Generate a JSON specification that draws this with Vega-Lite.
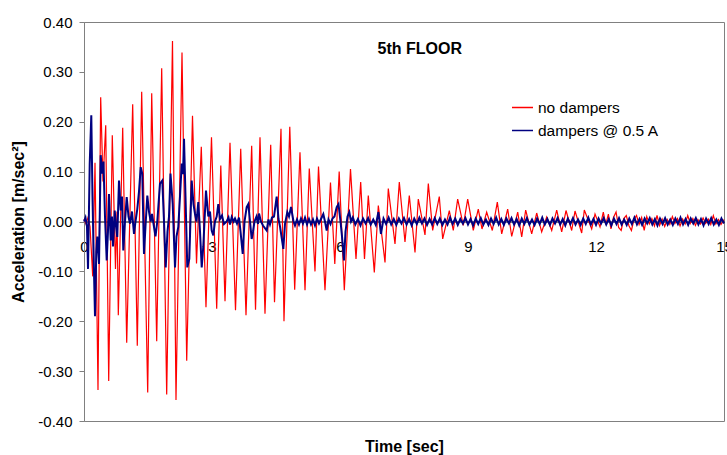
{
"$schema": "https://vega.github.io/schema/vega-lite/v6.json",
"width": 640, "height": 399,
"autosize": "none",
"padding": {"left": 84, "top": 22, "right": 3, "bottom": 34},
"background": "white",
"config": {"view": {"stroke": "#808080", "strokeWidth": 1}, "font": "Liberation Sans"},
"datasets": {
"red": [
{"t":0.000,"v":0.005},{"t":0.047,"v":-0.005},{"t":0.094,"v":0.008},{"t":0.141,"v":-0.01},{"t":0.204,"v":-0.11},{"t":0.258,"v":0.118},{"t":0.328,"v":-0.338},{"t":0.391,"v":0.249},{"t":0.445,"v":0.08},{"t":0.509,"v":0.193},{"t":0.579,"v":-0.32},{"t":0.663,"v":0.173},{"t":0.738,"v":-0.095},{"t":0.773,"v":0.02},{"t":0.804,"v":-0.188},{"t":0.907,"v":0.188},{"t":1.001,"v":-0.243},{"t":1.141,"v":0.235},{"t":1.249,"v":-0.249},{"t":1.352,"v":0.26},{"t":1.493,"v":-0.343},{"t":1.587,"v":0.257},{"t":1.704,"v":-0.24},{"t":1.821,"v":0.307},{"t":1.938,"v":-0.347},{"t":2.074,"v":0.362},{"t":2.156,"v":-0.358},{"t":2.297,"v":0.339},{"t":2.407,"v":-0.279},{"t":2.543,"v":0.212},{"t":2.637,"v":-0.084},{"t":2.749,"v":0.15},{"t":2.859,"v":-0.172},{"t":2.988,"v":0.169},{"t":3.110,"v":-0.175},{"t":3.206,"v":0.112},{"t":3.305,"v":-0.16},{"t":3.422,"v":0.158},{"t":3.551,"v":-0.178},{"t":3.673,"v":0.146},{"t":3.797,"v":-0.188},{"t":3.930,"v":0.152},{"t":4.020,"v":-0.177},{"t":4.125,"v":0.169},{"t":4.242,"v":-0.185},{"t":4.376,"v":0.154},{"t":4.465,"v":-0.162},{"t":4.617,"v":0.186},{"t":4.687,"v":-0.2},{"t":4.823,"v":0.19},{"t":4.938,"v":-0.137},{"t":5.062,"v":0.139},{"t":5.180,"v":-0.138},{"t":5.280,"v":0.106},{"t":5.414,"v":-0.1},{"t":5.496,"v":0.11},{"t":5.648,"v":-0.138},{"t":5.777,"v":0.078},{"t":5.878,"v":-0.085},{"t":5.981,"v":0.1},{"t":6.101,"v":-0.138},{"t":6.246,"v":0.105},{"t":6.375,"v":-0.075},{"t":6.485,"v":0.079},{"t":6.574,"v":-0.075},{"t":6.663,"v":0.052},{"t":6.804,"v":-0.102},{"t":6.898,"v":0.032},{"t":7.055,"v":-0.082},{"t":7.132,"v":0.066},{"t":7.289,"v":-0.045},{"t":7.390,"v":0.079},{"t":7.523,"v":-0.041},{"t":7.624,"v":0.052},{"t":7.758,"v":-0.062},{"t":7.835,"v":0.045},{"t":7.992,"v":-0.027},{"t":8.070,"v":0.076},{"t":8.172,"v":-0.018},{"t":8.327,"v":0.05},{"t":8.407,"v":-0.035},{"t":8.562,"v":0.022},{"t":8.655,"v":-0.018},{"t":8.758,"v":0.045},{"t":8.890,"v":-0.008},{"t":8.993,"v":0.045},{"t":9.124,"v":-0.018},{"t":9.241,"v":0.025},{"t":9.328,"v":-0.015},{"t":9.438,"v":0.019},{"t":9.570,"v":-0.018},{"t":9.687,"v":0.039},{"t":9.790,"v":-0.025},{"t":9.930,"v":0.025},{"t":10.024,"v":-0.03},{"t":10.165,"v":0.019},{"t":10.259,"v":-0.031},{"t":10.352,"v":0.023},{"t":10.493,"v":-0.025},{"t":10.610,"v":0.017},{"t":10.727,"v":-0.021},{"t":10.844,"v":0.009},{"t":10.962,"v":-0.018},{"t":11.079,"v":0.023},{"t":11.196,"v":-0.021},{"t":11.297,"v":0.022},{"t":11.430,"v":-0.018},{"t":11.508,"v":0.021},{"t":11.665,"v":-0.023},{"t":11.726,"v":0.023},{"t":11.899,"v":-0.015},{"t":11.977,"v":0.015},{"t":12.094,"v":-0.011},{"t":12.171,"v":0.019},
{"t":12.23,"v":-0.006},{"t":12.29,"v":0.015},{"t":12.35,"v":-0.015},{"t":12.41,"v":0.008},{"t":12.47,"v":0.019},{"t":12.53,"v":-0.012},{"t":12.59,"v":-0.018},{"t":12.65,"v":0.006},{"t":12.71,"v":0.012},{"t":12.77,"v":-0.008},{"t":12.83,"v":-0.018},{"t":12.89,"v":0.004},{"t":12.95,"v":0.012},{"t":13.01,"v":-0.006},{"t":13.07,"v":0.008},{"t":13.13,"v":-0.018},{"t":13.19,"v":0.01},{"t":13.25,"v":-0.005},{"t":13.31,"v":0.006},{"t":13.37,"v":-0.009},{"t":13.43,"v":0.012},{"t":13.49,"v":-0.008},{"t":13.55,"v":0.005},{"t":13.61,"v":-0.01},{"t":13.67,"v":0.004},{"t":13.73,"v":-0.006},{"t":13.79,"v":0.01},{"t":13.85,"v":-0.004},{"t":13.91,"v":0.006},{"t":13.97,"v":-0.009},{"t":14.03,"v":0.005},{"t":14.09,"v":-0.005},{"t":14.15,"v":0.012},{"t":14.21,"v":-0.004},{"t":14.27,"v":0.006},{"t":14.33,"v":-0.008},{"t":14.39,"v":0.004},{"t":14.45,"v":-0.005},{"t":14.51,"v":0.007},{"t":14.57,"v":-0.004},{"t":14.63,"v":0.005},{"t":14.69,"v":-0.006},{"t":14.75,"v":0.012},{"t":14.81,"v":-0.005},{"t":14.87,"v":0.004},{"t":14.93,"v":-0.006},{"t":15.0,"v":0.004}
],
"blue": [
{"t":0.000,"v":0.0},{"t":0.035,"v":0.008},{"t":0.070,"v":-0.01},{"t":0.094,"v":-0.095},{"t":0.134,"v":0.116},{"t":0.171,"v":0.213},{"t":0.199,"v":0.05},{"t":0.234,"v":-0.1},{"t":0.258,"v":-0.19},{"t":0.288,"v":-0.06},{"t":0.312,"v":-0.03},{"t":0.352,"v":-0.085},{"t":0.391,"v":0.133},{"t":0.429,"v":0.096},{"t":0.457,"v":0.12},{"t":0.492,"v":0.01},{"t":0.532,"v":-0.078},{"t":0.562,"v":-0.02},{"t":0.586,"v":0.055},{"t":0.626,"v":-0.038},{"t":0.656,"v":0.01},{"t":0.680,"v":-0.05},{"t":0.720,"v":0.022},{"t":0.750,"v":-0.01},{"t":0.780,"v":-0.031},{"t":0.820,"v":0.082},{"t":0.860,"v":0.022},{"t":0.891,"v":0.05},{"t":0.921,"v":-0.058},{"t":0.961,"v":0.0},{"t":1.001,"v":0.049},{"t":1.043,"v":0.01},{"t":1.078,"v":-0.004},{"t":1.125,"v":0.02},{"t":1.172,"v":-0.025},{"t":1.207,"v":0.0},{"t":1.249,"v":0.025},{"t":1.289,"v":0.06},{"t":1.329,"v":0.109},{"t":1.366,"v":0.096},{"t":1.406,"v":-0.065},{"t":1.441,"v":-0.01},{"t":1.484,"v":0.052},{"t":1.523,"v":0.02},{"t":1.563,"v":0.0},{"t":1.594,"v":0.015},{"t":1.641,"v":-0.011},{"t":1.676,"v":-0.03},{"t":1.718,"v":0.0},{"t":1.781,"v":0.076},{"t":1.835,"v":0.082},{"t":1.875,"v":0.0},{"t":1.915,"v":-0.092},{"t":1.957,"v":-0.02},{"t":1.992,"v":0.01},{"t":2.027,"v":0.096},{"t":2.079,"v":0.035},{"t":2.133,"v":-0.092},{"t":2.168,"v":-0.03},{"t":2.210,"v":-0.011},{"t":2.250,"v":0.05},{"t":2.290,"v":0.116},{"t":2.320,"v":0.095},{"t":2.344,"v":0.166},{"t":2.379,"v":0.05},{"t":2.421,"v":-0.092},{"t":2.468,"v":-0.075},{"t":2.524,"v":0.082},{"t":2.566,"v":0.035},{"t":2.602,"v":0.015},{"t":2.637,"v":0.0},{"t":2.679,"v":0.039},{"t":2.719,"v":-0.02},{"t":2.759,"v":-0.092},{"t":2.796,"v":-0.05},{"t":2.859,"v":0.062},{"t":2.913,"v":0.01},{"t":2.953,"v":0.02},{"t":2.993,"v":-0.018},{"t":3.030,"v":-0.028},{"t":3.070,"v":0.0},{"t":3.110,"v":0.01},{"t":3.148,"v":0.035},{"t":3.187,"v":0.005},{"t":3.234,"v":0.012},{"t":3.281,"v":-0.005},{"t":3.344,"v":0.0},{"t":3.387,"v":0.008},{"t":3.422,"v":-0.006},{"t":3.462,"v":0.009},{"t":3.504,"v":0.0},{"t":3.539,"v":0.006},{"t":3.586,"v":-0.004},{"t":3.633,"v":0.008},{"t":3.668,"v":-0.02},{"t":3.720,"v":-0.065},{"t":3.762,"v":0.0},{"t":3.813,"v":0.029},{"t":3.851,"v":0.035},{"t":3.891,"v":0.0},{"t":3.930,"v":-0.035},{"t":3.961,"v":-0.02},{"t":3.996,"v":0.0},{"t":4.043,"v":0.01},{"t":4.078,"v":-0.005},{"t":4.102,"v":0.016},{"t":4.148,"v":0.0},{"t":4.195,"v":-0.008},{"t":4.282,"v":-0.018},{"t":4.324,"v":0.004},{"t":4.359,"v":-0.006},{"t":4.406,"v":0.008},{"t":4.453,"v":0.01},{"t":4.516,"v":0.05},{"t":4.559,"v":0.005},{"t":4.594,"v":-0.01},{"t":4.672,"v":-0.055},{"t":4.711,"v":-0.005},{"t":4.765,"v":0.019},{"t":4.805,"v":0.01},{"t":4.852,"v":0.029},{"t":4.910,"v":0.0},{"t":4.945,"v":-0.008},{"t":4.992,"v":0.004},{"t":5.039,"v":-0.006},{"t":5.086,"v":0.006},{"t":5.133,"v":-0.004},{"t":5.180,"v":0.008},{"t":5.227,"v":-0.006},{"t":5.273,"v":0.005},{"t":5.320,"v":-0.006},{"t":5.367,"v":0.004},{"t":5.414,"v":-0.008},{"t":5.461,"v":0.006},{"t":5.508,"v":-0.004},{"t":5.555,"v":0.005},{"t":5.609,"v":0.015},{"t":5.648,"v":0.0},{"t":5.688,"v":-0.018},{"t":5.730,"v":0.004},{"t":5.777,"v":-0.005},{"t":5.824,"v":0.006},{"t":5.871,"v":0.01},{"t":5.923,"v":0.029},{"t":5.965,"v":0.035},{"t":6.012,"v":0.0},{"t":6.047,"v":-0.03},{"t":6.094,"v":-0.078},{"t":6.129,"v":-0.02},{"t":6.176,"v":0.01},{"t":6.218,"v":0.019},{"t":6.258,"v":0.0},
{"t":6.30,"v":0.008},{"t":6.36,"v":-0.006},{"t":6.42,"v":0.005},{"t":6.48,"v":-0.008},{"t":6.54,"v":0.006},{"t":6.60,"v":-0.004},{"t":6.66,"v":0.007},{"t":6.72,"v":-0.006},{"t":6.78,"v":0.004},{"t":6.84,"v":-0.007},{"t":6.90,"v":0.019},{"t":6.96,"v":-0.025},{"t":7.02,"v":0.006},{"t":7.08,"v":-0.005},{"t":7.14,"v":0.008},{"t":7.20,"v":-0.006},{"t":7.26,"v":0.005},{"t":7.32,"v":-0.007},{"t":7.38,"v":0.006},{"t":7.44,"v":-0.004},{"t":7.50,"v":0.007},{"t":7.56,"v":-0.006},{"t":7.62,"v":0.005},{"t":7.68,"v":-0.008},{"t":7.74,"v":0.006},{"t":7.80,"v":-0.005},{"t":7.86,"v":0.008},{"t":7.92,"v":-0.004},{"t":7.98,"v":0.006},{"t":8.04,"v":-0.007},{"t":8.10,"v":0.005},{"t":8.16,"v":-0.006},{"t":8.22,"v":0.007},{"t":8.28,"v":-0.005},{"t":8.34,"v":0.006},{"t":8.40,"v":-0.007},{"t":8.46,"v":0.004},{"t":8.52,"v":-0.006},{"t":8.58,"v":0.008},{"t":8.64,"v":-0.005},{"t":8.70,"v":0.006},{"t":8.76,"v":-0.007},{"t":8.82,"v":0.005},{"t":8.88,"v":-0.004},{"t":8.94,"v":0.007},{"t":9.00,"v":-0.006},{"t":9.06,"v":0.005},{"t":9.12,"v":-0.008},{"t":9.18,"v":0.006},{"t":9.24,"v":-0.005},{"t":9.30,"v":0.007},{"t":9.36,"v":-0.006},{"t":9.42,"v":0.004},{"t":9.48,"v":-0.007},{"t":9.54,"v":0.006},{"t":9.60,"v":-0.005},{"t":9.66,"v":0.008},{"t":9.72,"v":-0.006},{"t":9.78,"v":0.005},{"t":9.84,"v":-0.007},{"t":9.90,"v":0.006},{"t":9.96,"v":-0.004},{"t":10.02,"v":0.007},{"t":10.08,"v":-0.006},{"t":10.14,"v":0.005},{"t":10.20,"v":-0.008},{"t":10.26,"v":0.006},{"t":10.32,"v":-0.005},{"t":10.38,"v":0.007},{"t":10.44,"v":-0.006},{"t":10.50,"v":0.004},{"t":10.56,"v":-0.007},{"t":10.62,"v":0.006},{"t":10.68,"v":-0.005},{"t":10.74,"v":0.008},{"t":10.80,"v":-0.006},{"t":10.86,"v":0.005},{"t":10.92,"v":-0.007},{"t":10.98,"v":0.006},{"t":11.04,"v":-0.004},{"t":11.10,"v":0.007},{"t":11.16,"v":-0.006},{"t":11.22,"v":0.005},{"t":11.28,"v":-0.008},{"t":11.34,"v":0.006},{"t":11.40,"v":-0.005},{"t":11.46,"v":0.007},{"t":11.52,"v":-0.006},{"t":11.58,"v":0.004},{"t":11.64,"v":-0.007},{"t":11.70,"v":0.006},{"t":11.76,"v":-0.005},{"t":11.82,"v":0.008},{"t":11.88,"v":-0.006},{"t":11.94,"v":0.005},{"t":12.00,"v":-0.007},{"t":12.06,"v":0.006},{"t":12.12,"v":-0.004},{"t":12.18,"v":0.007},{"t":12.24,"v":-0.006},{"t":12.30,"v":0.005},{"t":12.36,"v":-0.008},{"t":12.42,"v":0.006},{"t":12.48,"v":-0.005},{"t":12.54,"v":0.007},{"t":12.60,"v":-0.006},{"t":12.66,"v":0.004},{"t":12.72,"v":-0.007},{"t":12.78,"v":0.006},{"t":12.84,"v":-0.005},{"t":12.90,"v":0.008},{"t":12.96,"v":-0.006},{"t":13.02,"v":0.005},{"t":13.08,"v":-0.007},{"t":13.14,"v":0.006},{"t":13.20,"v":-0.004},{"t":13.26,"v":0.007},{"t":13.32,"v":-0.006},{"t":13.38,"v":0.005},{"t":13.44,"v":-0.008},{"t":13.50,"v":0.006},{"t":13.56,"v":-0.005},{"t":13.62,"v":0.007},{"t":13.68,"v":-0.006},{"t":13.74,"v":0.004},{"t":13.80,"v":-0.007},{"t":13.86,"v":0.006},{"t":13.92,"v":-0.005},{"t":13.98,"v":0.008},{"t":14.04,"v":-0.006},{"t":14.10,"v":0.005},{"t":14.16,"v":-0.007},{"t":14.22,"v":0.006},{"t":14.28,"v":-0.004},{"t":14.34,"v":0.007},{"t":14.40,"v":-0.006},{"t":14.46,"v":0.005},{"t":14.52,"v":-0.008},{"t":14.58,"v":0.006},{"t":14.64,"v":-0.005},{"t":14.70,"v":0.007},{"t":14.76,"v":-0.006},{"t":14.82,"v":0.004},{"t":14.88,"v":-0.007},{"t":14.94,"v":0.006},{"t":15.00,"v":-0.004}
]
},
"layer": [
{
"data": {"name": "red"},
"mark": {"type": "line", "strokeWidth": 1.2},
"encoding": {
"x": {"field": "t", "type": "quantitative", "scale": {"domain": [0, 15], "nice": false, "zero": false},
  "axis": {"values": [0, 3, 6, 9, 12, 15], "format": "d", "offset": -199.5, "domainColor": "black", "domainWidth": 1, "ticks": false, "tickSize": 0, "labelPadding": 18, "labelFontSize": 15, "labelColor": "black", "labelFlush": false, "labelOverlap": false, "grid": false,
   "title": "Time [sec]", "titleFontSize": 16, "titleFontWeight": "bold", "titleColor": "black", "titleY": 224.5, "titleBaseline": "middle"}},
"y": {"field": "v", "type": "quantitative", "scale": {"domain": [-0.4, 0.4], "nice": false},
  "axis": {"values": [-0.4, -0.3, -0.2, -0.1, 0, 0.1, 0.2, 0.3, 0.4], "labelExpr": "replace(format(datum.value, '.2f'), '\u2212', '-')", "domainColor": "#808080", "tickColor": "#808080", "tickSize": 5, "labelPadding": 7, "labelFontSize": 15, "labelColor": "black", "grid": false,
   "title": "Acceleration [m/sec²]", "titleFontSize": 16, "titleFontWeight": "bold", "titleColor": "black", "titleX": -66, "titleY": 199.5, "titleBaseline": "middle", "titleAngle": 270}},
"color": {"datum": "no dampers", "type": "nominal", "scale": {"domain": ["no dampers", "dampers @ 0.5 A"], "range": ["#FF0000", "#000080"]},
  "legend": {"title": null, "orient": "none", "legendX": 427, "legendY": 74, "symbolType": "stroke", "symbolSize": 441, "symbolStrokeWidth": 1.5, "labelFontSize": 15.5, "labelColor": "black", "labelOffset": 4, "rowPadding": 3, "padding": 0}}
}
},
{
"data": {"name": "blue"},
"mark": {"type": "line", "strokeWidth": 2},
"encoding": {
"x": {"field": "t", "type": "quantitative"},
"y": {"field": "v", "type": "quantitative"},
"color": {"datum": "dampers @ 0.5 A", "type": "nominal"}
}
},
{
"data": {"values": [{}]},
"mark": {"type": "text", "fontWeight": "bold", "fontSize": 16, "color": "black"},
"encoding": {
"x": {"datum": 7.87, "type": "quantitative"},
"y": {"datum": 0.345, "type": "quantitative"},
"text": {"value": "5th FLOOR"}
}
}
]
}
